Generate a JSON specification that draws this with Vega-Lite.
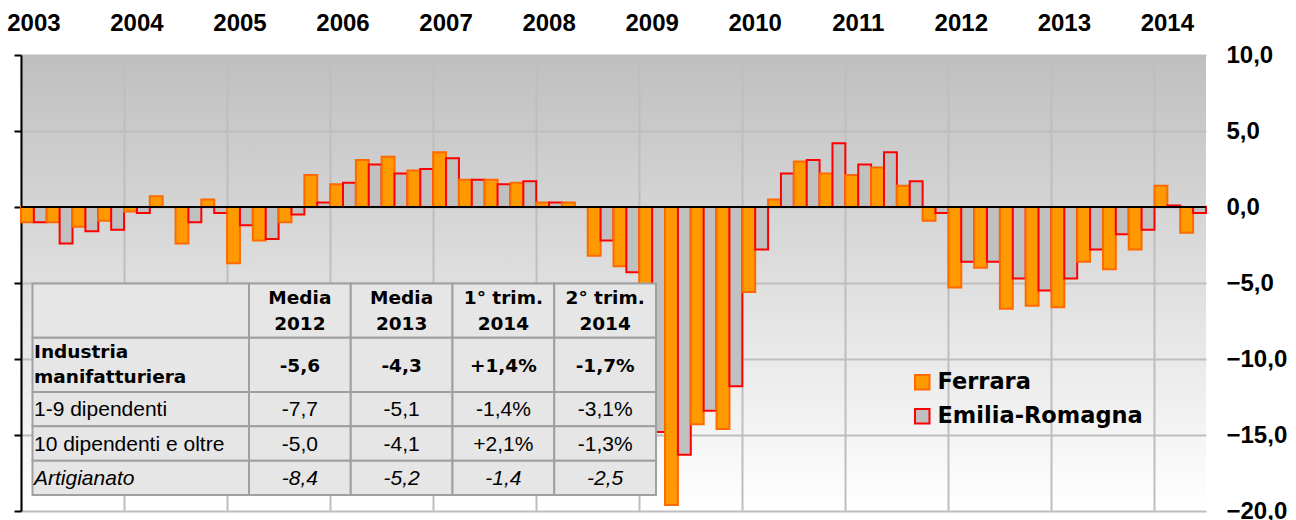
{
  "$schema": "https://vega.github.io/schema/vega-lite/v6.json",
  "width": 1185,
  "height": 456,
  "autosize": {"type": "none"},
  "padding": {"left": 21, "top": 55, "right": 90, "bottom": 9},
  "background": "#ffffff",
  "config": {
    "view": {
      "stroke": null,
      "fill": {"gradient": "linear", "x1": 0, "y1": 0, "x2": 0, "y2": 1,
        "stops": [{"offset": 0, "color": "#bfbfbf"}, {"offset": 1, "color": "#ffffff"}]}
    }
  },
  "datasets": {
    "trimestri": [
      {"t": "2003-1", "Ferrara": -1.0, "Emilia-Romagna": -1.0},
      {"t": "2003-2", "Ferrara": -1.0, "Emilia-Romagna": -2.4},
      {"t": "2003-3", "Ferrara": -1.3, "Emilia-Romagna": -1.6},
      {"t": "2003-4", "Ferrara": -0.9, "Emilia-Romagna": -1.5},
      {"t": "2004-1", "Ferrara": -0.3, "Emilia-Romagna": -0.4},
      {"t": "2004-2", "Ferrara": 0.7, "Emilia-Romagna": 0.0},
      {"t": "2004-3", "Ferrara": -2.4, "Emilia-Romagna": -1.0},
      {"t": "2004-4", "Ferrara": 0.5, "Emilia-Romagna": -0.4},
      {"t": "2005-1", "Ferrara": -3.7, "Emilia-Romagna": -1.2},
      {"t": "2005-2", "Ferrara": -2.2, "Emilia-Romagna": -2.1},
      {"t": "2005-3", "Ferrara": -1.0, "Emilia-Romagna": -0.5},
      {"t": "2005-4", "Ferrara": 2.1, "Emilia-Romagna": 0.3},
      {"t": "2006-1", "Ferrara": 1.5, "Emilia-Romagna": 1.6},
      {"t": "2006-2", "Ferrara": 3.1, "Emilia-Romagna": 2.8},
      {"t": "2006-3", "Ferrara": 3.3, "Emilia-Romagna": 2.2},
      {"t": "2006-4", "Ferrara": 2.4, "Emilia-Romagna": 2.5},
      {"t": "2007-1", "Ferrara": 3.6, "Emilia-Romagna": 3.2},
      {"t": "2007-2", "Ferrara": 1.8, "Emilia-Romagna": 1.8},
      {"t": "2007-3", "Ferrara": 1.8, "Emilia-Romagna": 1.5},
      {"t": "2007-4", "Ferrara": 1.6, "Emilia-Romagna": 1.7},
      {"t": "2008-1", "Ferrara": 0.3, "Emilia-Romagna": 0.3},
      {"t": "2008-2", "Ferrara": 0.3, "Emilia-Romagna": 0.0},
      {"t": "2008-3", "Ferrara": -3.2, "Emilia-Romagna": -2.2},
      {"t": "2008-4", "Ferrara": -3.9, "Emilia-Romagna": -4.3},
      {"t": "2009-1", "Ferrara": -14.1, "Emilia-Romagna": -14.8},
      {"t": "2009-2", "Ferrara": -19.6, "Emilia-Romagna": -16.3},
      {"t": "2009-3", "Ferrara": -14.3, "Emilia-Romagna": -13.4},
      {"t": "2009-4", "Ferrara": -14.6, "Emilia-Romagna": -11.8},
      {"t": "2010-1", "Ferrara": -5.6, "Emilia-Romagna": -2.8},
      {"t": "2010-2", "Ferrara": 0.5, "Emilia-Romagna": 2.2},
      {"t": "2010-3", "Ferrara": 3.0, "Emilia-Romagna": 3.1},
      {"t": "2010-4", "Ferrara": 2.2, "Emilia-Romagna": 4.2},
      {"t": "2011-1", "Ferrara": 2.1, "Emilia-Romagna": 2.8},
      {"t": "2011-2", "Ferrara": 2.6, "Emilia-Romagna": 3.6},
      {"t": "2011-3", "Ferrara": 1.4, "Emilia-Romagna": 1.7},
      {"t": "2011-4", "Ferrara": -0.9, "Emilia-Romagna": -0.4},
      {"t": "2012-1", "Ferrara": -5.3, "Emilia-Romagna": -3.6},
      {"t": "2012-2", "Ferrara": -4.0, "Emilia-Romagna": -3.6},
      {"t": "2012-3", "Ferrara": -6.7, "Emilia-Romagna": -4.7},
      {"t": "2012-4", "Ferrara": -6.5, "Emilia-Romagna": -5.5},
      {"t": "2013-1", "Ferrara": -6.6, "Emilia-Romagna": -4.7},
      {"t": "2013-2", "Ferrara": -3.6, "Emilia-Romagna": -2.8},
      {"t": "2013-3", "Ferrara": -4.1, "Emilia-Romagna": -1.8},
      {"t": "2013-4", "Ferrara": -2.8, "Emilia-Romagna": -1.5},
      {"t": "2014-1", "Ferrara": 1.4, "Emilia-Romagna": 0.1},
      {"t": "2014-2", "Ferrara": -1.7, "Emilia-Romagna": -0.4}
    ],
    "tabella": [
      {"riga": "Intestazione", "colonna": "Voce", "testo": ""},
      {"riga": "Intestazione", "colonna": "Media 2012", "testo": "Media\n2012"},
      {"riga": "Intestazione", "colonna": "Media 2013", "testo": "Media\n2013"},
      {"riga": "Intestazione", "colonna": "1° trim. 2014", "testo": "1° trim.\n2014"},
      {"riga": "Intestazione", "colonna": "2° trim. 2014", "testo": "2° trim.\n2014"},
      {"riga": "Industria manifatturiera", "colonna": "Voce", "testo": "Industria\nmanifatturiera"},
      {"riga": "Industria manifatturiera", "colonna": "Media 2012", "testo": "-5,6"},
      {"riga": "Industria manifatturiera", "colonna": "Media 2013", "testo": "-4,3"},
      {"riga": "Industria manifatturiera", "colonna": "1° trim. 2014", "testo": "+1,4%"},
      {"riga": "Industria manifatturiera", "colonna": "2° trim. 2014", "testo": "-1,7%"},
      {"riga": "1-9 dipendenti", "colonna": "Voce", "testo": "1-9 dipendenti"},
      {"riga": "1-9 dipendenti", "colonna": "Media 2012", "testo": "-7,7"},
      {"riga": "1-9 dipendenti", "colonna": "Media 2013", "testo": "-5,1"},
      {"riga": "1-9 dipendenti", "colonna": "1° trim. 2014", "testo": "-1,4%"},
      {"riga": "1-9 dipendenti", "colonna": "2° trim. 2014", "testo": "-3,1%"},
      {"riga": "10 dipendenti e oltre", "colonna": "Voce", "testo": "10 dipendenti e oltre"},
      {"riga": "10 dipendenti e oltre", "colonna": "Media 2012", "testo": "-5,0"},
      {"riga": "10 dipendenti e oltre", "colonna": "Media 2013", "testo": "-4,1"},
      {"riga": "10 dipendenti e oltre", "colonna": "1° trim. 2014", "testo": "+2,1%"},
      {"riga": "10 dipendenti e oltre", "colonna": "2° trim. 2014", "testo": "-1,3%"},
      {"riga": "Artigianato", "colonna": "Voce", "testo": "Artigianato"},
      {"riga": "Artigianato", "colonna": "Media 2012", "testo": "-8,4"},
      {"riga": "Artigianato", "colonna": "Media 2013", "testo": "-5,2"},
      {"riga": "Artigianato", "colonna": "1° trim. 2014", "testo": "-1,4"},
      {"riga": "Artigianato", "colonna": "2° trim. 2014", "testo": "-2,5"}
    ]
  },
  "resolve": {"scale": {"x": "independent", "y": "independent"}},
  "layer": [
    {
      "data": {"name": "trimestri"},
      "transform": [{"fold": ["Ferrara", "Emilia-Romagna"], "as": ["serie", "valore"]}],
      "mark": {"type": "bar", "strokeWidth": 2},
      "encoding": {
        "x": {
          "field": "t", "type": "ordinal", "sort": null,
          "scale": {"paddingInner": 0, "paddingOuter": 0},
          "axis": {
            "orient": "top", "title": null,
            "values": ["2003-1", "2004-1", "2005-1", "2006-1", "2007-1", "2008-1", "2009-1", "2010-1", "2011-1", "2012-1", "2013-1", "2014-1"],
            "labelExpr": "substring(datum.label, 0, 4)",
            "bandPosition": 0, "labelOffset": 0, "labelAngle": 0,
            "ticks": false, "domain": false,
            "grid": true, "gridColor": "#bebebe", "gridWidth": 2,
            "labelFont": "Liberation Sans", "labelFontWeight": "bold", "labelFontSize": 24, "labelColor": "#000000",
            "labelPadding": 25, "labelBaseline": "alphabetic", "labelAlign": "center",
            "labelOverlap": false, "labelBound": false, "labelFlush": false
          }
        },
        "xOffset": {
          "field": "serie", "type": "nominal", "sort": ["Ferrara", "Emilia-Romagna"],
          "scale": {"paddingInner": 0, "paddingOuter": 0}
        },
        "y": {
          "field": "valore", "type": "quantitative",
          "scale": {"domain": [-20, 10], "nice": false, "zero": false},
          "axis": {
            "orient": "right", "title": null,
            "values": [-20, -15, -10, -5, 0, 5, 10],
            "labelExpr": "replace(format(datum.value, '.1f'), '.', ',')",
            "ticks": false, "domain": false,
            "grid": true, "gridColor": "#bebebe", "gridWidth": 2,
            "labelFont": "Liberation Sans", "labelFontWeight": "bold", "labelFontSize": 24, "labelColor": "#000000",
            "labelPadding": 20, "labelAlign": "left", "labelBaseline": "middle",
            "labelFlush": false, "labelBound": false, "labelOverlap": false
          }
        },
        "fill": {
          "field": "serie", "type": "nominal",
          "scale": {"domain": ["Ferrara", "Emilia-Romagna"], "range": ["#ff9900", "#c0c0c0"]},
          "legend": {
            "title": null, "orient": "none", "legendX": 890, "legendY": 316, "direction": "vertical",
            "symbolType": "square", "symbolSize": 210, "symbolStrokeWidth": 2,
            "labelFont": "DejaVu Sans", "labelFontWeight": "bold", "labelFontSize": 22.5, "labelColor": "#000000",
            "labelOffset": 4, "labelLimit": 400, "rowPadding": 11, "padding": 0
          }
        },
        "stroke": {
          "field": "serie", "type": "nominal",
          "scale": {"domain": ["Ferrara", "Emilia-Romagna"], "range": ["#ff6a00", "#ff0000"]},
          "legend": {
            "title": null, "orient": "none", "legendX": 890, "legendY": 316, "direction": "vertical",
            "symbolType": "square", "symbolSize": 210, "symbolStrokeWidth": 2,
            "labelFont": "DejaVu Sans", "labelFontWeight": "bold", "labelFontSize": 22.5, "labelColor": "#000000",
            "labelOffset": 4, "labelLimit": 400, "rowPadding": 11, "padding": 0
          }
        }
      }
    },
    {
      "data": {"values": [{}]},
      "mark": {"type": "rule", "color": "#000000", "strokeWidth": 2},
      "encoding": {
        "y": {
          "datum": 0, "type": "quantitative",
          "scale": {"domain": [-20, 10], "nice": false, "zero": false},
          "axis": {
            "orient": "left", "title": null,
            "values": [-20, -15, -10, -5, 0, 5, 10],
            "labels": false, "grid": false,
            "ticks": true, "tickSize": 7, "tickWidth": 2, "tickColor": "#000000",
            "domain": true, "domainColor": "#000000", "domainWidth": 2
          }
        }
      }
    },
    {
      "data": {"name": "tabella"},
      "transform": [
        {"filter": {"field": "riga", "oneOf": ["Intestazione", "Industria manifatturiera"]}},
        {"filter": "datum.colonna === 'Voce'"}
      ],
      "encoding": {
        "x": {"field": "colonna", "type": "nominal", "scale": {"domain": ["Voce"], "range": [11.5, 228], "paddingInner": 0, "paddingOuter": 0}, "axis": null},
        "y": {"field": "riga", "type": "nominal", "scale": {"domain": ["Intestazione", "Industria manifatturiera"], "range": [228.5, 337], "paddingInner": 0, "paddingOuter": 0}, "axis": null}
      },
      "layer": [
        {"mark": {"type": "rect", "fill": "#e6e6e6", "stroke": "#a0a0a0", "strokeWidth": 2}},
        {
          "mark": {"type": "text", "align": "left", "baseline": "middle", "dx": 1.5, "dy": -12.5, "font": "DejaVu Sans", "fontWeight": "bold", "fontSize": 18.5, "lineBreak": "\n", "lineHeight": 25, "color": "#000000"},
          "encoding": {
            "x": {"field": "colonna", "type": "nominal", "bandPosition": 0, "scale": {"domain": ["Voce"], "range": [11.5, 228], "paddingInner": 0, "paddingOuter": 0}, "axis": null},
            "text": {"field": "testo", "type": "nominal"}
          }
        }
      ]
    },
    {
      "data": {"name": "tabella"},
      "transform": [
        {"filter": {"field": "riga", "oneOf": ["Intestazione", "Industria manifatturiera"]}},
        {"filter": "datum.colonna !== 'Voce'"}
      ],
      "encoding": {
        "x": {"field": "colonna", "type": "nominal", "scale": {"domain": ["Media 2012", "Media 2013", "1° trim. 2014", "2° trim. 2014"], "range": [228, 635], "paddingInner": 0, "paddingOuter": 0}, "axis": null},
        "y": {"field": "riga", "type": "nominal", "scale": {"domain": ["Intestazione", "Industria manifatturiera"], "range": [228.5, 337], "paddingInner": 0, "paddingOuter": 0}, "axis": null}
      },
      "layer": [
        {"mark": {"type": "rect", "fill": "#e6e6e6", "stroke": "#a0a0a0", "strokeWidth": 2}},
        {
          "transform": [{"filter": "datum.riga === 'Intestazione'"}],
          "mark": {"type": "text", "align": "center", "baseline": "middle", "dy": -13, "font": "DejaVu Sans", "fontWeight": "bold", "fontSize": 18.5, "lineBreak": "\n", "lineHeight": 26, "color": "#000000"},
          "encoding": {"text": {"field": "testo", "type": "nominal"}}
        },
        {
          "transform": [{"filter": "datum.riga !== 'Intestazione'"}],
          "mark": {"type": "text", "align": "center", "baseline": "middle", "dy": 1, "font": "DejaVu Sans", "fontWeight": "bold", "fontSize": 18.5, "color": "#000000"},
          "encoding": {"text": {"field": "testo", "type": "nominal"}}
        }
      ]
    },
    {
      "data": {"name": "tabella"},
      "transform": [
        {"filter": {"field": "riga", "oneOf": ["1-9 dipendenti", "10 dipendenti e oltre", "Artigianato"]}},
        {"filter": "datum.colonna === 'Voce'"}
      ],
      "encoding": {
        "x": {"field": "colonna", "type": "nominal", "scale": {"domain": ["Voce"], "range": [11.5, 228], "paddingInner": 0, "paddingOuter": 0}, "axis": null},
        "y": {"field": "riga", "type": "nominal", "scale": {"domain": ["1-9 dipendenti", "10 dipendenti e oltre", "Artigianato"], "range": [337, 440], "paddingInner": 0, "paddingOuter": 0}, "axis": null}
      },
      "layer": [
        {"mark": {"type": "rect", "fill": "#e6e6e6", "stroke": "#a0a0a0", "strokeWidth": 2}},
        {
          "transform": [{"filter": "datum.riga !== 'Artigianato'"}],
          "mark": {"type": "text", "align": "left", "baseline": "middle", "dx": 1.5, "dy": 1, "font": "Liberation Sans", "fontSize": 21, "color": "#000000"},
          "encoding": {
            "x": {"field": "colonna", "type": "nominal", "bandPosition": 0, "scale": {"domain": ["Voce"], "range": [11.5, 228], "paddingInner": 0, "paddingOuter": 0}, "axis": null},
            "text": {"field": "testo", "type": "nominal"}
          }
        },
        {
          "transform": [{"filter": "datum.riga === 'Artigianato'"}],
          "mark": {"type": "text", "align": "left", "baseline": "middle", "dx": 1.5, "dy": 1, "font": "Liberation Sans", "fontStyle": "italic", "fontSize": 21, "color": "#000000"},
          "encoding": {
            "x": {"field": "colonna", "type": "nominal", "bandPosition": 0, "scale": {"domain": ["Voce"], "range": [11.5, 228], "paddingInner": 0, "paddingOuter": 0}, "axis": null},
            "text": {"field": "testo", "type": "nominal"}
          }
        }
      ]
    },
    {
      "data": {"name": "tabella"},
      "transform": [
        {"filter": {"field": "riga", "oneOf": ["1-9 dipendenti", "10 dipendenti e oltre", "Artigianato"]}},
        {"filter": "datum.colonna !== 'Voce'"}
      ],
      "encoding": {
        "x": {"field": "colonna", "type": "nominal", "scale": {"domain": ["Media 2012", "Media 2013", "1° trim. 2014", "2° trim. 2014"], "range": [228, 635], "paddingInner": 0, "paddingOuter": 0}, "axis": null},
        "y": {"field": "riga", "type": "nominal", "scale": {"domain": ["1-9 dipendenti", "10 dipendenti e oltre", "Artigianato"], "range": [337, 440], "paddingInner": 0, "paddingOuter": 0}, "axis": null}
      },
      "layer": [
        {"mark": {"type": "rect", "fill": "#e6e6e6", "stroke": "#a0a0a0", "strokeWidth": 2}},
        {
          "transform": [{"filter": "datum.riga !== 'Artigianato'"}],
          "mark": {"type": "text", "align": "center", "baseline": "middle", "dy": 1, "font": "Liberation Sans", "fontSize": 21, "color": "#000000"},
          "encoding": {"text": {"field": "testo", "type": "nominal"}}
        },
        {
          "transform": [{"filter": "datum.riga === 'Artigianato'"}],
          "mark": {"type": "text", "align": "center", "baseline": "middle", "dy": 1, "font": "Liberation Sans", "fontStyle": "italic", "fontSize": 21, "color": "#000000"},
          "encoding": {"text": {"field": "testo", "type": "nominal"}}
        }
      ]
    }
  ]
}
